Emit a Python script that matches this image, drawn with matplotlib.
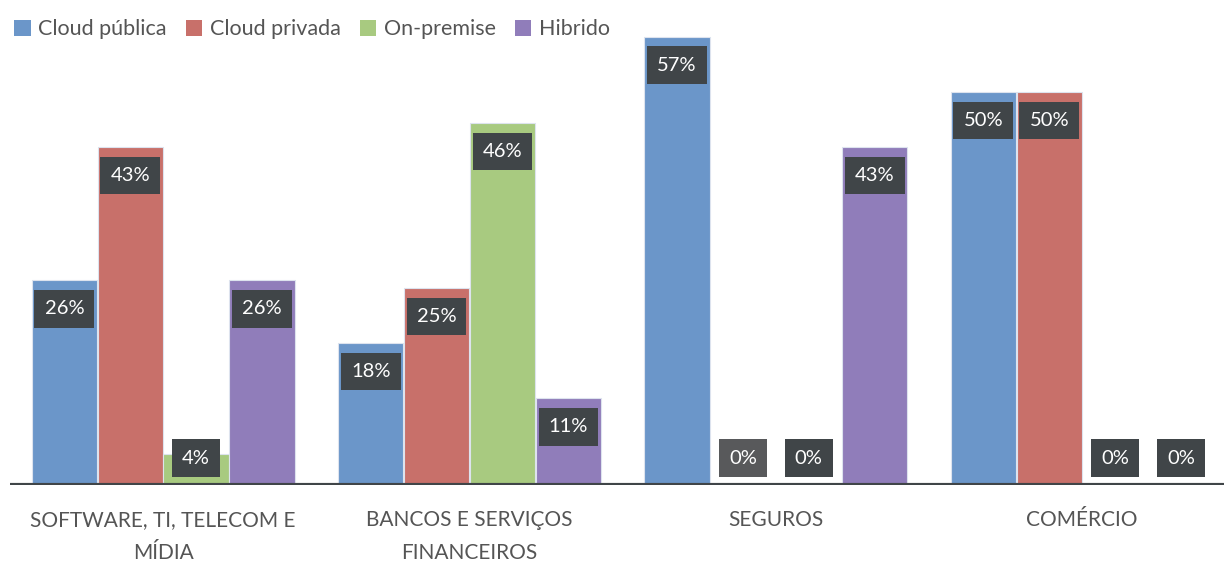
import matplotlib
matplotlib.use("Agg")
import matplotlib.pyplot as plt
import numpy as np
from matplotlib.patches import Patch

plt.rcParams['font.family'] = ['Lato', 'DejaVu Sans']

categories = ["SOFTWARE, TI, TELECOM E\nMÍDIA", "BANCOS E SERVIÇOS\nFINANCEIROS", "SEGUROS", "COMÉRCIO"]
series_names = ["Cloud pública", "Cloud privada", "On-premise", "Hibrido"]
cloud_publica = [26, 18, 57, 50]
cloud_privada = [43, 25, 0, 50]
on_premise = [4, 46, 0, 0]
hibrido = [26, 11, 43, 0]

series_values = [cloud_publica, cloud_privada, on_premise, hibrido]
colors = ["#6b96c9", "#c8706a", "#a8ca80", "#907dba"]
box_color = "#404548"
text_color = "#555555"

fig = plt.figure(figsize=(12.24, 5.64), dpi=100)
ax = fig.add_axes([10 / 1224, 79 / 564, 1 - 10 / 1224, 465 / 564])

x = np.arange(len(categories))
width = 0.215
px_per_unit = 465 / 59.1  # pixels per percentage point

for i, (name, vals, col) in enumerate(zip(series_names, series_values, colors)):
    pos = x + (i - 1.5) * width
    ax.bar(pos, vals, width=width * 0.99, color=col, edgecolor="#dde3ee",
           linewidth=0.8, label=name, zorder=2)
    for j, (px, v) in enumerate(zip(pos, vals)):
        yc = max(v - 28.5 / px_per_unit, 27 / px_per_unit)
        # the first empty-bar label of SEGUROS sits on a lighter box
        fc = "#58595b" if (j == 2 and i == 1) else box_color
        ax.text(px, yc, f"{v}%", ha="center", va="center", color="white",
                fontsize=14.5, zorder=3,
                bbox=dict(boxstyle="square,pad=0.5", facecolor=fc,
                          edgecolor="none"))

ax.set_xlim(-0.5, 3.463)
ax.set_ylim(0, 59.1)
ax.axhline(0, color="#404548", linewidth=3, zorder=4)

for s in ax.spines.values():
    s.set_visible(False)
ax.set_yticks([])
ax.set_xticks(x)
ax.set_xticklabels(categories, fontsize=15, color=text_color, linespacing=1.8)
ax.tick_params(axis="x", length=0, pad=18)

handles = [Patch(facecolor=c, edgecolor="none") for c in colors]
fig.legend(handles, series_names, loc="upper left", bbox_to_anchor=(-0.004, 1.0),
           ncol=4, frameon=False, fontsize=15.5, handlelength=0.75,
           handleheight=0.75, handletextpad=0.35, columnspacing=0.9,
           labelcolor=text_color)

fig.savefig("out.png", dpi=100)
